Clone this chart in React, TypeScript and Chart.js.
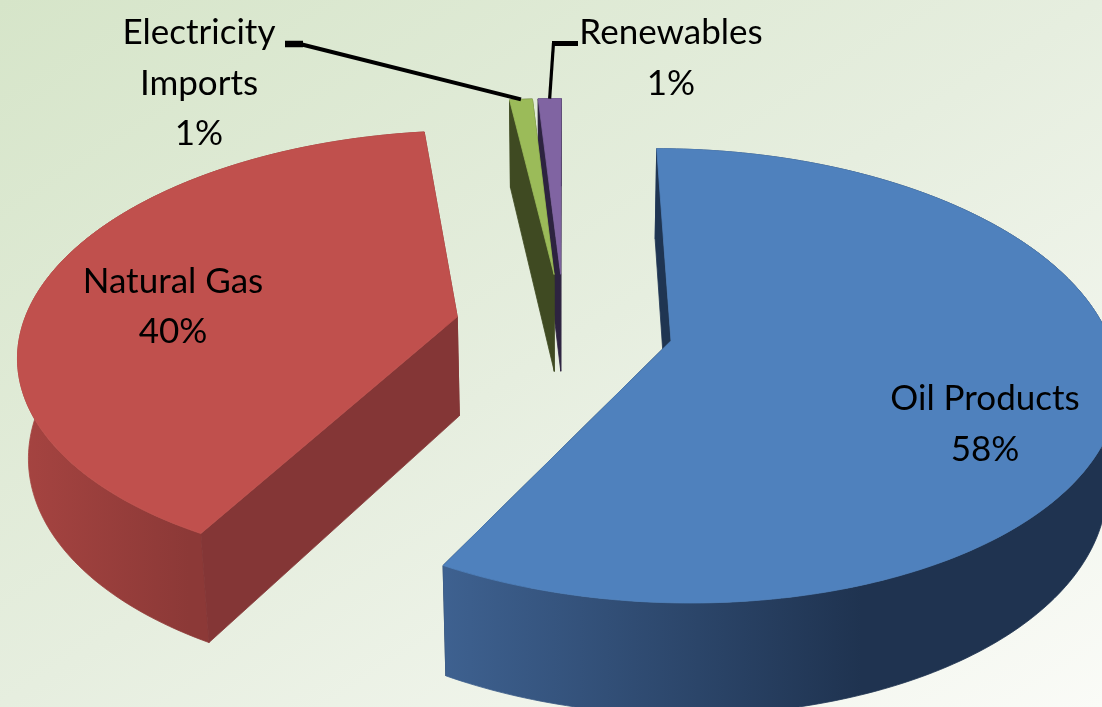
import React, { useEffect, useRef } from "react";
import { Chart, registerables } from "chart.js";

Chart.register(...registerables);

const categories = ["Oil Products", "Natural Gas", "Electricity Imports", "Renewables"];
const shares = [58, 40, 1, 1];
const labelLines = [["Oil Products", "58%"], ["Natural Gas", "40%"], ["Electricity", "Imports", "1%"], ["Renewables", "1%"]];
const topColors = ["#4f81bd", "#c0504d", "#9bbb59", "#8064a2"];
const flatWallColors = ["#1f3552", "#843636", "#3f4a22", "#2d2340"];
const curveWallStart = ["#3e6190", "#a64441", "#3f4a22", "#2d2340"];
const curveWallEnd = ["#1f3350", "#8c3937", "#3f4a22", "#2d2340"];
const curveWallSpan = [0.62, 0.42, 1, 1];
const paintOrder = [3, 2, 1, 0];

// camera of the 3-D pie
const CAM = { cx: 564, cy: 327, R: 435, H: 217.5, a: 0.153, b: 0.02, Z: 101.5 };
const labelAnchors = [[985, 399, 51], [173, 282, 50], [199, 33, 50.5], [671, 33, 51]];

function project(u: number, v: number, d: number) {
  const s = 1 / (1 + CAM.a * v + CAM.b * d);
  return { x: CAM.cx + CAM.R * u * s, y: CAM.cy + (-CAM.H * v + CAM.Z * d) * s };
}

function poly(ctx: CanvasRenderingContext2D, pts: { x: number; y: number }[], fill: any) {
  ctx.beginPath();
  pts.forEach((p, i) => (i ? ctx.lineTo(p.x, p.y) : ctx.moveTo(p.x, p.y)));
  ctx.closePath();
  ctx.fillStyle = fill;
  ctx.fill();
  ctx.strokeStyle = fill;
  ctx.lineWidth = 0.8;
  ctx.lineJoin = "round";
  ctx.stroke();
}

function sliceGeom(arc: any) {
  const e = arc.options.offset / arc.outerRadius;
  const mid = (arc.startAngle + arc.endAngle) / 2;
  const ax = e * Math.cos(mid);
  const ay = -e * Math.sin(mid);
  const n = Math.max(4, Math.ceil(((arc.endAngle - arc.startAngle) * 180) / Math.PI));
  const rim: number[][] = [];
  for (let i = 0; i <= n; i++) {
    const t = arc.startAngle + ((arc.endAngle - arc.startAngle) * i) / n;
    rim.push([ax + Math.cos(t), ay - Math.sin(t)]);
  }
  return { ax, ay, rim, mid };
}

const pie3d = {
  id: "pie3d",
  beforeDraw(chart: any) {
    const { ctx, width: w, height: h } = chart;
    const k = (2 * h * w) / (h * h + w * w);
    const g = ctx.createLinearGradient(0, 0, k * h, k * w);
    g.addColorStop(0, "#d6e5c9");
    g.addColorStop(0.5, "#e6eedf");
    g.addColorStop(1, "#fafbf7");
    ctx.fillStyle = g;
    ctx.fillRect(0, 0, w, h);
  },
  beforeDatasetsDraw(chart: any) {
    const ctx = chart.ctx;
    const arcs = chart.getDatasetMeta(0).data;
    paintOrder.forEach((i) => {
      const arc = arcs[i];
      const { ax, ay, rim } = sliceGeom(arc);
      const top = rim.map(([u, v]) => project(u, v, 0));
      const bot = rim.map(([u, v]) => project(u, v, 1));
      const apexT = project(ax, ay, 0);
      const apexB = project(ax, ay, 1);
      // far radial wall, rim wall, near radial wall, then the top face
      poly(ctx, [apexT, top[top.length - 1], bot[bot.length - 1], apexB], flatWallColors[i]);
      const xs = top.concat(bot).map((p) => p.x);
      const x0 = Math.min(...xs);
      const x1 = Math.max(...xs);
      const grad = ctx.createLinearGradient(x0, 0, x0 + (x1 - x0) * curveWallSpan[i], 0);
      grad.addColorStop(0, curveWallStart[i]);
      grad.addColorStop(1, curveWallEnd[i]);
      poly(ctx, top.concat(bot.slice().reverse()), grad);
      poly(ctx, [apexT, top[0], bot[0], apexB], flatWallColors[i]);
      poly(ctx, [apexT, ...top], arc.options.backgroundColor);
    });
    return false;
  },
  afterDraw(chart: any) {
    const ctx = chart.ctx;
    const arcs = chart.getDatasetMeta(0).data;
    ctx.save();
    // leader lines to the two smallest slices
    ctx.strokeStyle = "#000";
    ctx.lineCap = "butt";
    const rimMid = (i: number) => {
      const { ax, ay, mid } = sliceGeom(arcs[i]);
      return project(ax + Math.cos(mid), ay - Math.sin(mid), 0);
    };
    const g = rimMid(2);
    ctx.lineWidth = 6.5;
    ctx.beginPath(); ctx.moveTo(285, 44); ctx.lineTo(303, 44); ctx.stroke();
    ctx.lineWidth = 4;
    ctx.beginPath(); ctx.moveTo(302, 44.5); ctx.lineTo(g.x, g.y); ctx.stroke();
    const p = rimMid(3);
    ctx.lineWidth = 5;
    ctx.beginPath(); ctx.moveTo(552, 43.5); ctx.lineTo(578, 43.5); ctx.stroke();
    ctx.lineWidth = 3.2;
    ctx.beginPath(); ctx.moveTo(553.5, 43); ctx.lineTo(p.x, p.y); ctx.stroke();
    // labels
    ctx.filter = "blur(0.45px)";
    ctx.fillStyle = "#000";
    ctx.font = '35px Lato, "Open Sans", sans-serif';
    ctx.textAlign = "center";
    ctx.textBaseline = "middle";
    labelLines.forEach((lines, i) => {
      const [x, y, lh] = labelAnchors[i];
      lines.forEach((t, k) => ctx.fillText(t, x, y + k * lh));
    });
    ctx.restore();
  },
};

export default function App() {
  const ref = useRef<HTMLCanvasElement | null>(null);
  useEffect(() => {
    const chart = new Chart(ref.current as HTMLCanvasElement, {
      type: "pie",
      data: {
        labels: categories,
        datasets: [{ data: shares, backgroundColor: topColors, borderWidth: 0, offset: 79 }],
      },
      options: {
        responsive: false,
        animation: false,
        rotation: 0,
        layout: { padding: 0 },
        plugins: { legend: { display: false }, tooltip: { enabled: false } },
      },
      plugins: [pie3d as any],
    });
    return () => chart.destroy();
  }, []);
  return (
    <canvas
      ref={ref}
      width={1102}
      height={707}
      style={{ position: "absolute", left: 0, top: 0, width: 1102, height: 707 }}
    />
  );
}
